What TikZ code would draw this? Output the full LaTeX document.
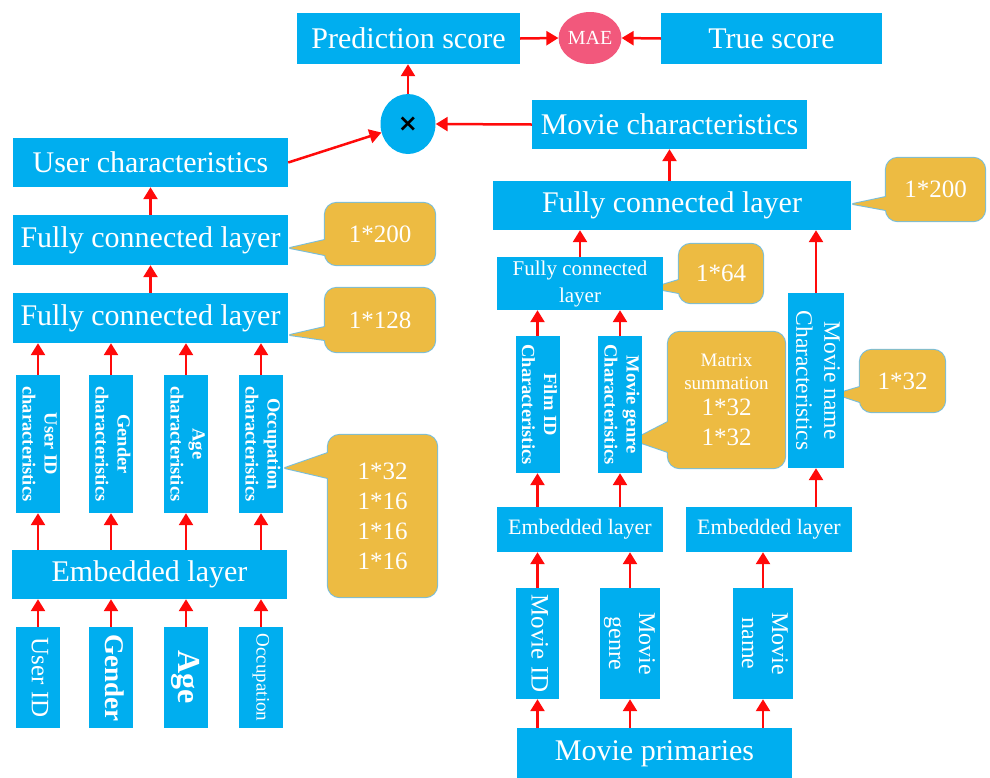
\documentclass[tikz,border=0pt]{standalone}
\usepackage{fontspec}
\setmainfont{Liberation Serif}
\newfontfamily\symfont{DejaVu Sans}
\usepackage{graphicx}
\usetikzlibrary{arrows.meta,shapes.geometric,calc}
\pgfdeclarelayer{bg}
\pgfsetlayers{bg,main}

\definecolor{boxblue}{HTML}{00AEEF}
\definecolor{gold}{HTML}{EDBB42}
\definecolor{goldedge}{HTML}{78BEDC}
\definecolor{maepink}{HTML}{F2587C}
\definecolor{arrowred}{HTML}{FF0A0A}

\newcommand\fs[2]{\fontsize{#1}{#2}\selectfont}
% text turned to read from top to bottom, first line on the right
\newcommand\vtxt[1]{\rotatebox{-90}{\begin{tabular}{@{}c@{}}#1\end{tabular}}}

\tikzset{
  bluebox/.style={fill=boxblue, text=white, inner sep=0pt, align=center},
  wide/.style={bluebox, minimum width=275pt, minimum height=49pt, font=\fs{30}{34}},
  vbox/.style={bluebox, minimum width=44pt, minimum height=138pt, font=\bfseries\fs{18.5}{22}},
  inbox/.style={bluebox, minimum width=44pt, minimum height=101pt},
  link/.style={draw=arrowred, line width=2.5pt, -{Triangle[width=14pt,length=12pt]}},
  calloutbox/.style={text=white, inner sep=0pt, align=center, font=\fs{25}{30}},
  cedge/.style={draw=goldedge, line width=2pt, rounded corners=12pt},
  cfill/.style={fill=gold, rounded corners=12pt},
  tedge/.style={draw=goldedge, line width=2pt, line join=round},
}

% #1 name, #2 centre, #3 width, #4 height, #5 pointer tip, #6/#7 pointer base (y), #8 text
\newcommand\callout[8]{%
  \node[calloutbox, minimum width=#3, minimum height=#4] (#1) at (#2) {#8};
  \coordinate (#1-tip) at (#5);
  \coordinate (#1-b1) at (#1.west |- 0,#6);
  \coordinate (#1-b2) at (#1.west |- 0,#7);
  \begin{pgfonlayer}{bg}
    \draw[cedge] (#1.south west) rectangle (#1.north east);
    \draw[tedge] (#1-tip) -- (#1-b1) -- (#1-b2) -- cycle;
    \fill[cfill] (#1.south west) rectangle (#1.north east);
    \fill[gold] (#1-tip) -- (#1-b1) -- (#1-b2) -- cycle;
  \end{pgfonlayer}}

\begin{document}
\begin{tikzpicture}[x=1pt, y=-1pt]
\useasboundingbox (0,0) rectangle (990,777);

% ---- output stage ----
\node[bluebox, minimum width=223pt, minimum height=51pt, font=\fs{30}{34}] (pred) at (408.5,38.5) {Prediction score};
\node[ellipse, fill=maepink, text=white, inner sep=0pt, minimum width=56pt, minimum height=52pt, font=\fs{20}{22}] (mae) at (590,38) {MAE};
\node[bluebox, minimum width=221pt, minimum height=51pt, font=\fs{30}{34}] (truesc) at (771.5,38.5) {True score};
\node[ellipse, fill=boxblue, inner sep=0pt, minimum width=55pt, minimum height=60pt, font=\symfont\bfseries\fs{24}{28}] (mult) at (408,124) {×};
\node[wide] (moviechar) at (669.5,124.5) {Movie characteristics};

% ---- user branch ----
\node[wide] (userchar) at (150.5,162.5) {User characteristics};
\node[wide, minimum height=50pt] (ufc1) at (150.5,240) {Fully connected layer};
\node[wide, minimum height=50pt] (ufc2) at (150.5,318) {Fully connected layer};
\node[vbox] (uc1) at (38,444) {\vtxt{User ID\\characteristics}};
\node[vbox] (uc2) at (111,444) {\vtxt{Gender\\characteristics}};
\node[vbox] (uc3) at (186,444) {\vtxt{Age\\characteristics}};
\node[vbox] (uc4) at (261,444) {\vtxt{Occupation\\characteristics}};
\node[wide] (uemb) at (149.5,574.5) {Embedded layer};
\node[inbox, font=\fs{25}{30}] (uin1) at (38,677.5) {\vtxt{User ID}};
\node[inbox, font=\bfseries\fs{27}{30}] (uin2) at (111,677.5) {\vtxt{Gender}};
\node[inbox, font=\bfseries\fs{32}{36}] (uin3) at (186,677.5) {\vtxt{Age}};
\node[inbox, font=\fs{19}{22}] (uin4) at (261,677.5) {\vtxt{Occupation}};

% ---- movie branch ----
\node[bluebox, minimum width=358pt, minimum height=49pt, font=\fs{30}{34}] (rfc) at (672,205.5) {Fully connected layer};
\node[bluebox, minimum width=166pt, minimum height=53pt, font=\fs{21}{27}] (sfc) at (580,283.5) {Fully connected\\layer};
\node[vbox, minimum width=43pt, minimum height=137pt] (filmchar) at (537.5,404.5) {\vtxt{Film ID\\Characteristics}};
\node[vbox, minimum height=137pt] (genrechar) at (620,404.5) {\vtxt{Movie genre\\Characteristics}};
\node[bluebox, minimum width=52pt, minimum height=175pt, font=\fs{23.5}{28}] (namechar) at (816,380.5) {\vtxt{Movie name\\Characteristics}};
\node[bluebox, minimum width=166pt, minimum height=45pt, font=\fs{22}{26}] (remb1) at (580,529.5) {Embedded layer};
\node[bluebox, minimum width=166pt, minimum height=45pt, font=\fs{22}{26}] (remb2) at (769,529.5) {Embedded layer};
\node[inbox, minimum width=43pt, minimum height=111pt, font=\fs{25}{30}] (min1) at (537.5,643.5) {\vtxt{Movie ID}};
\node[inbox, minimum width=58pt, minimum height=111pt, font=\fs{24}{30}] (min2) at (630,643.5) {\vtxt{Movie\\genre}};
\node[inbox, minimum width=58pt, minimum height=111pt, font=\fs{24}{30}] (min3) at (763,643.5) {\vtxt{Movie\\name}};
\node[bluebox, minimum width=275pt, minimum height=52pt, font=\fs{30}{34}] (mprim) at (654.5,754) {Movie primaries};

% ---- size callouts ----
\callout{c200L}{380,234}{110pt}{62pt}{290,248}{240}{255}{1*200}
\callout{c128L}{380,320}{110pt}{64pt}{290,335}{327}{340}{1*128}
\callout{cuser}{382.5,516}{109pt}{162pt}{285,468}{453}{478}{1*32\\1*16\\1*16\\1*16}
\callout{c200R}{935.5,189.5}{99pt}{63pt}{853,204}{197}{210}{1*200}
\callout{c64}{721,273.5}{84pt}{59pt}{652,288}{280}{293}{1*64}
\callout{cmat}{726.5,400}{117pt}{136pt}{633,440}{422}{452}{\fs{19}{23}Matrix\\[-7pt]\fs{19}{23}summation\\[-4pt]1*32\\1*32}
\callout{c32R}{902.5,381}{85pt}{62pt}{836,394}{387}{402}{1*32}

% ---- connectors ----
\draw[link] (pred.east) -- (mae.west);
\draw[link] (truesc.west) -- (mae.east);
\draw[link] (mult.north) -- (mult.north |- pred.south);
\draw[link] (moviechar.west) -- (mult.east);
\draw[link] (userchar.east) -- (mult);

\draw[link] (ufc1.north) -- (userchar.south);
\draw[link] (ufc2.north) -- (ufc1.south);
\foreach \i in {1,...,4} {
  \draw[link] (uc\i.north) -- (uc\i.north |- ufc2.south);
  \draw[link] (uc\i.south |- uemb.north) -- (uc\i.south);
  \draw[link] (uin\i.north) -- (uin\i.north |- uemb.south);
}

\draw[link] (moviechar.south |- rfc.north) -- (moviechar.south);
\draw[link] (sfc.north) -- (sfc.north |- rfc.south);
\draw[link] (namechar.north) -- (namechar.north |- rfc.south);
\draw[link] (filmchar.north) -- (filmchar.north |- sfc.south);
\draw[link] (genrechar.north) -- (genrechar.north |- sfc.south);
\draw[link] (filmchar.south |- remb1.north) -- (filmchar.south);
\draw[link] (genrechar.south |- remb1.north) -- (genrechar.south);
\draw[link] (namechar.south |- remb2.north) -- (namechar.south);
\draw[link] (min1.north) -- (min1.north |- remb1.south);
\draw[link] (min2.north) -- (min2.north |- remb1.south);
\draw[link] (min3.north) -- (min3.north |- remb2.south);
\foreach \i in {1,2,3}
  \draw[link] (min\i.south |- mprim.north) -- (min\i.south);
\end{tikzpicture}
\end{document}
